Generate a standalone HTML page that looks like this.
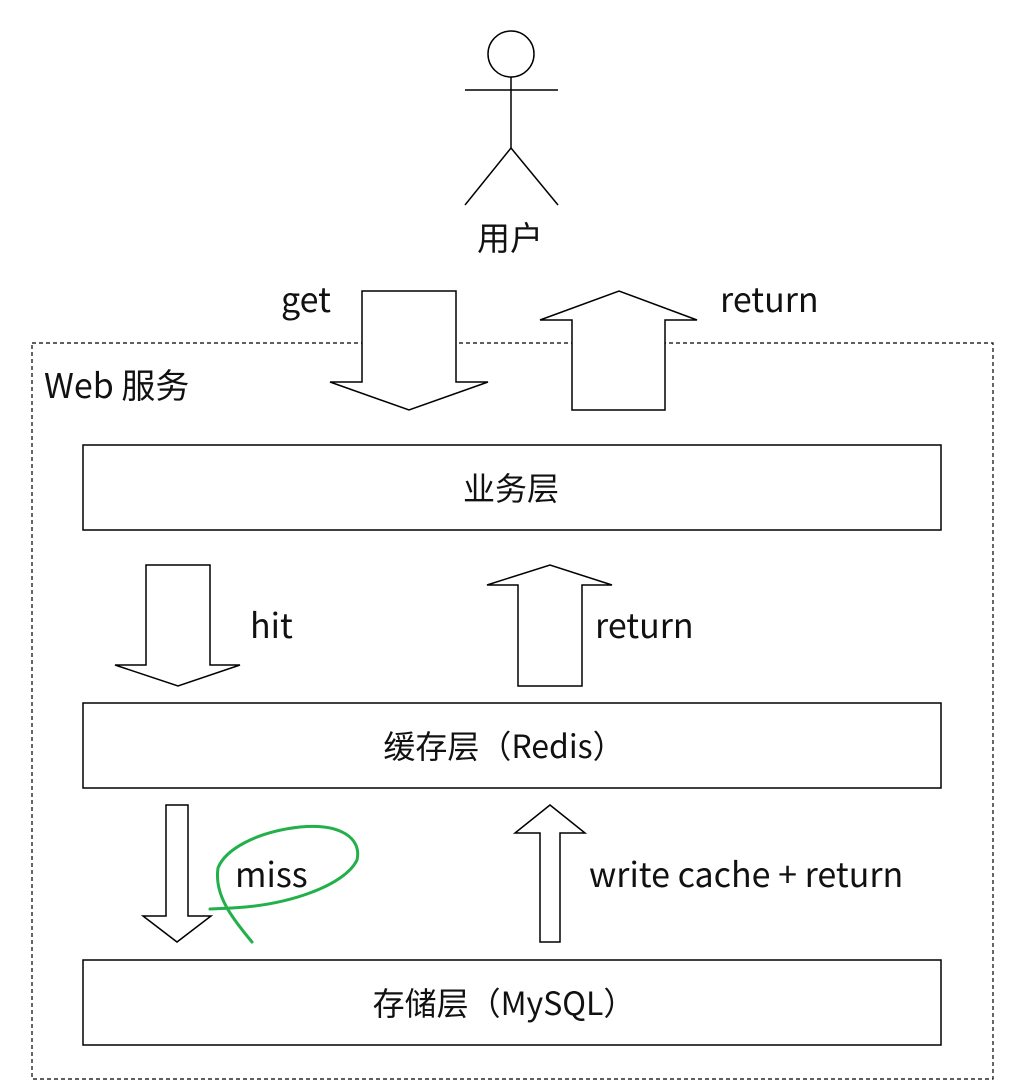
<!DOCTYPE html>
<html><head><meta charset="utf-8"><style>
html,body{margin:0;padding:0;background:#fff;}
svg{display:block;}
text{font-family:"Noto Sans CJK SC",sans-serif;fill:#111;}
</style></head><body>
<svg width="1024" height="1090" viewBox="0 0 1024 1090" xmlns="http://www.w3.org/2000/svg">
<rect width="1024" height="1090" fill="#fff"/>
<g fill="none" stroke="#000" stroke-width="1.5">
<circle cx="511" cy="54" r="23"/>
<line x1="511" y1="77" x2="511" y2="148"/>
<line x1="465" y1="90" x2="558" y2="90"/>
<line x1="511" y1="148" x2="465" y2="205"/>
<line x1="511" y1="148" x2="558" y2="205"/>
</g>
<text x="510" y="250" font-size="33" text-anchor="middle">用户</text>
<rect x="32" y="343" width="961" height="736" fill="none" stroke="#000" stroke-width="1.2" stroke-dasharray="4,3"/>
<text x="44" y="398" font-size="34">Web 服务</text>
<g fill="#fff" stroke="#000" stroke-width="1.5">
<polygon points="362,291 456,291 456,382 488,382 409,410 330,382 362,382"/>
<polygon points="572,410 665,410 665,320 697,320 619,291 540,320 572,320"/>
<rect x="83" y="445" width="858" height="85"/>
<polygon points="146,565 210,565 210,665 240,665 178,686 115,665 146,665"/>
<polygon points="518,686 582,686 582,585 612,585 550,565 487,585 518,585"/>
<rect x="83" y="703" width="858" height="85"/>
<polygon points="166,805 188,805 188,916 211,916 177,942 143,916 166,916"/>
<polygon points="540,942 560,942 560,833 585,833 550,805 515,833 540,833"/>
<rect x="83" y="960" width="858" height="85"/>
</g>
<g font-size="34">
<text x="281" y="312">get</text>
<text x="720" y="312">return</text>
<text x="250" y="638">hit</text>
<text x="595" y="638">return</text>
<text x="235" y="887">miss</text>
<text x="589" y="887">write cache + return</text>
</g>
<g font-size="32" text-anchor="middle">
<text x="511" y="500">业务层</text>
<text x="504" y="758">缓存层（Redis）</text>
<text x="504" y="1015">存储层（MySQL）</text>
</g>
<path d="M210,909 L232,908 C290,905 345,885 357,860 C362,838 340,823 300,827 C255,832 225,850 218,868 C214,895 232,918 252,942" fill="none" stroke="#22b04a" stroke-width="3" stroke-linecap="round"/>
</svg>
</body></html>
